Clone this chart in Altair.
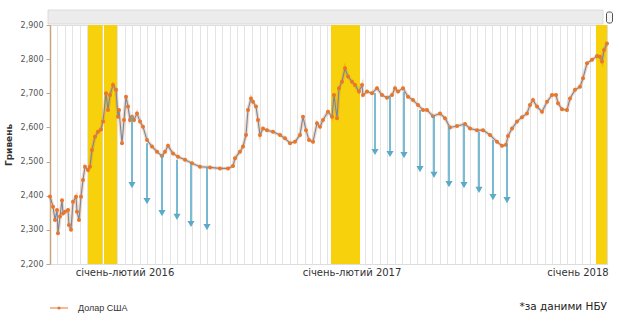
import altair as alt
import numpy as np
import pandas as pd

# ---- data (x = point index along the timeline, y = UAH per 100 USD) ----
idx = [0, 3, 5, 7, 8, 10, 12, 13, 15, 18, 19, 21, 23, 26, 27, 29, 31, 33, 35, 38,
       40, 42, 45, 48, 51, 53, 56, 58, 60, 63, 66, 68, 69, 72, 74, 76, 78, 80, 82, 84,
       87, 90, 93, 97, 102, 107, 112, 115, 118, 123, 128, 135, 142, 150, 160, 170, 178, 183, 185, 190,
       193, 196, 198, 201, 203, 206, 208, 210, 213, 217, 223, 230, 235, 240, 245, 250, 253, 256, 259, 263,
       267, 270, 273, 278, 282, 284, 287, 289, 292, 295, 298, 302, 305, 309, 312, 313, 317, 322, 327, 332,
       337, 342, 345, 348, 353, 358, 363, 368, 373, 377, 383, 390, 395, 400, 407, 415, 420, 427, 433, 440,
       447, 452, 456, 458, 462, 467, 472, 477, 480, 483, 487, 492, 497, 502, 506, 508, 512, 517, 520, 525,
       530, 533, 537, 542, 547, 550, 552, 554, 557]
usd = [2398, 2368, 2329, 2358, 2290, 2339, 2387, 2348, 2353, 2358, 2314, 2300, 2382, 2397, 2353, 2329, 2397, 2446, 2485, 2475,
       2485, 2534, 2573, 2587, 2594, 2617, 2700, 2651, 2695, 2724, 2710, 2631, 2651, 2554, 2622, 2690, 2661, 2622, 2631, 2622,
       2641, 2617, 2602, 2563, 2544, 2529, 2516, 2529, 2546, 2524, 2514, 2505, 2495, 2485, 2483, 2480, 2480, 2487, 2510, 2529,
       2544, 2578, 2651, 2685, 2675, 2661, 2622, 2578, 2597, 2592, 2587, 2578, 2568, 2554, 2558, 2578, 2631, 2592, 2563, 2558,
       2612, 2602, 2622, 2646, 2631, 2695, 2627, 2715, 2734, 2773, 2749, 2734, 2724, 2705, 2724, 2695, 2705, 2700, 2715, 2695,
       2687, 2695, 2715, 2705, 2715, 2690, 2680, 2666, 2651, 2651, 2633, 2641, 2627, 2600, 2604, 2610, 2597, 2592, 2592, 2578,
       2558, 2546, 2549, 2575, 2597, 2617, 2630, 2641, 2666, 2680, 2661, 2646, 2675, 2695, 2695, 2671, 2653, 2651, 2685, 2710,
       2719, 2744, 2788, 2798, 2809, 2807, 2793, 2827, 2846]

band_start = [38, 54, 281, 546]
band_end = [52.5, 67, 310, 557]

arrow_idx = [82, 97, 112, 127, 141, 157, 325, 340, 354, 370, 384, 399, 414, 429, 443, 457]
arrow_top = [2636, 2554, 2519, 2505, 2493, 2481, 2701, 2689, 2704, 2651, 2636, 2601, 2607, 2587, 2563, 2549]
arrow_end = [2431, 2384, 2349, 2338, 2317, 2308, 2528, 2522, 2519, 2478, 2461, 2434, 2431, 2417, 2396, 2387]

period_labels = ["січень-лютий 2016", "січень-лютий 2017", "січень 2018"]
period_pos = [75, 302, 528]

y_ticks = [2200, 2300, 2400, 2500, 2600, 2700, 2800, 2900]
series_name = "Долар США"
source_note = "*за даними НБУ"

# ---- styles ----
ORANGE = "#e8762c"
LINEC = "#6f8aa8"
GOLD = "#f6d10c"
BLUE = "#5aaac8"
AXISC = "#c9a47f"
FONT = "DejaVu Sans"

grid_vals = [float(v) for v in np.arange(7, 557, 7.5)]

xs = alt.Scale(domain=[0, 557], nice=False, zero=False)
ys = alt.Scale(domain=[2200, 2900], nice=False, zero=False)

x_axis = alt.Axis(values=grid_vals, labels=False, ticks=False, grid=True,
                  gridColor="#e4e4e4", gridWidth=1, domainColor="#dddddd", title=None)
y_axis = alt.Axis(values=y_ticks, format=",.0f", grid=False, domainColor=AXISC, domainWidth=1.5,
                  tickColor=AXISC, tickSize=4, labelFontSize=8, labelColor="#555555", labelFont=FONT,
                  labelPadding=3, title="Гривень", titleFont=FONT, titleFontSize=9,
                  titleFontWeight="bold", titleColor="#333333", titlePadding=7)


def X(f):
    return alt.X(f, scale=xs, axis=x_axis, title=None)


def Y(f):
    return alt.Y(f, scale=ys, axis=y_axis, title="Гривень")


line_df = pd.DataFrame({"i": idx, "v": usd})
band_df = pd.DataFrame({"s": band_start, "e": band_end})
arr_df = pd.DataFrame({"i": arrow_idx, "t": arrow_top, "b": arrow_end})
lab_df = pd.DataFrame({"i": period_pos, "txt": period_labels})

bands = alt.Chart(band_df).mark_rect(color=GOLD).encode(
    x=X("s:Q"), x2="e:Q", y=alt.value(0), y2=alt.value(239))

halo = alt.Chart(line_df).mark_line(color=ORANGE, strokeWidth=3.5, opacity=0.3).encode(
    x=X("i:Q"), y=Y("v:Q"))
line = alt.Chart(line_df).mark_line(color=LINEC, strokeWidth=1.1).encode(
    x=X("i:Q"), y=Y("v:Q"))
pts = alt.Chart(line_df).mark_circle(color=ORANGE, size=16, opacity=1).encode(
    x=X("i:Q"), y=Y("v:Q"))

shafts = alt.Chart(arr_df).mark_rule(color=BLUE, strokeWidth=1.6).encode(
    x=X("i:Q"), y=Y("t:Q"), y2="b:Q")
heads = alt.Chart(arr_df).mark_point(shape="triangle-down", filled=True, color=BLUE,
                                      size=50, opacity=1).encode(
    x=X("i:Q"), y=Y("b:Q"))

period_text = alt.Chart(lab_df).mark_text(font=FONT, fontSize=10, color="#333333",
                                           baseline="middle", align="center").encode(
    x=X("i:Q"), y=alt.value(248), text="txt:N")

# scrollbar decoration at the top
scroll = alt.Chart(pd.DataFrame({"a": [0]})).mark_rect(
    color="#ececec", stroke="#d6d6d6", strokeWidth=0.8).encode(
    x=alt.value(-2), x2=alt.value(553), y=alt.value(-15), y2=alt.value(-1))
knob = alt.Chart(pd.DataFrame({"a": [0]})).mark_rect(
    color="#f6f6f6", stroke="#555555", strokeWidth=1, cornerRadius=2).encode(
    x=alt.value(556.5), x2=alt.value(562.5), y=alt.value(-13), y2=alt.value(-2))

# legend
leg_line = alt.Chart(pd.DataFrame({"a": [0]})).mark_rule(color=ORANGE, strokeWidth=1).encode(
    x=alt.value(0), x2=alt.value(18), y=alt.value(283))
leg_dot = alt.Chart(pd.DataFrame({"a": [0]})).mark_circle(color=ORANGE, size=10, opacity=1).encode(
    x=alt.value(9), y=alt.value(283))
leg_text = alt.Chart(pd.DataFrame({"t": [series_name]})).mark_text(
    font="Liberation Sans", fontSize=9, color="#333333", align="left", baseline="middle").encode(
    x=alt.value(28), y=alt.value(283), text="t:N")
note = alt.Chart(pd.DataFrame({"t": [source_note]})).mark_text(
    font=FONT, fontSize=10.5, color="#222222", align="right", baseline="middle").encode(
    x=alt.value(557), y=alt.value(282), text="t:N")

chart = alt.layer(
    bands, halo, line, pts, shafts, heads, period_text, scroll, knob,
    leg_line, leg_dot, leg_text, note
).properties(
    width=557, height=239,
    autosize=alt.AutoSizeParams(type="none"),
    padding={"left": 50, "top": 25, "right": 13, "bottom": 57},
).configure_view(stroke=None).configure(background="white")

chart.save("out.html", embed_options={"renderer": "svg", "actions": False})
